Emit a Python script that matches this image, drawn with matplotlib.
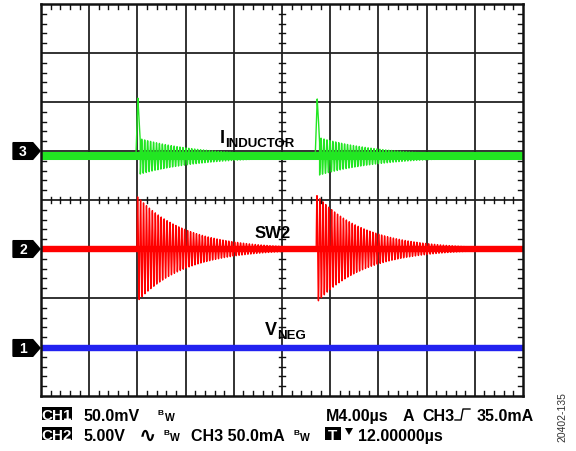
import numpy as np
import matplotlib
matplotlib.use("Agg")
from matplotlib import pyplot as plt
from matplotlib.patches import Polygon, Rectangle
from matplotlib.lines import Line2D

# scope screen, in divisions (10 x 8, 4 us/div)
event_div = [1.99, 5.71]          # switching events
ch_level = {"1": -3.02, "2": -1.00, "3": 1.00}
trace_level = {"1": -3.02, "2": -1.0, "3": 0.89}

# SW2 ringing
sw2_amp0 = 1.08
sw2_tau = 1.0
ring_period = 0.061

# inductor current: spike + smaller ring
ind_spike_dt = [-0.02, 0.02, 0.07]
ind_spike_dy = [0.0, 1.19, 0.30]
ind_amp0 = 0.36
ind_tau = 1.3

W, H = 576, 452
fig = plt.figure(figsize=(5.76, 4.52), dpi=100)
L, R, T, B = 41, 523, 5, 397
ax = fig.add_axes([L / W, 1 - B / H, (R - L) / W, (B - T) / H])
ax.set_xlim(0, 10)
ax.set_ylim(-4, 4)
ax.set_xticks([])
ax.set_yticks([])
for s in ax.spines.values():
    s.set_linewidth(1.8)
    s.set_color("#111111")
    s.set_zorder(6)

for x in range(1, 10):
    ax.axvline(x, color="#222222", lw=1.3, zorder=1)
for y in range(-3, 4):
    ax.axhline(y, color="#222222", lw=1.3, zorder=1)

# minor ticks on border and centre cross
minor_x = [v for v in np.arange(0.2, 10, 0.2) if abs(v - round(v)) > 0.01]
minor_y = [v for v in np.arange(-3.8, 4, 0.2) if abs(v - round(v)) > 0.01]
for x in minor_x:
    ax.plot([x, x], [4, 3.9], color="#111", lw=1.0, zorder=5)
    ax.plot([x, x], [-4, -3.9], color="#111", lw=1.0, zorder=5)
    ax.plot([x, x], [-0.06, 0.06], color="#111", lw=1.0, zorder=5)
for y in minor_y:
    ax.plot([0, 0.1], [y, y], color="#111", lw=1.0, zorder=5)
    ax.plot([10, 9.9], [y, y], color="#111", lw=1.0, zorder=5)
    ax.plot([4.94, 5.06], [y, y], color="#111", lw=1.0, zorder=5)

t = np.linspace(0, 10, 12000)

# CH1 (VNEG)
ax.plot([0, 10], [trace_level["1"]] * 2, color="#2222f0", lw=4.6, zorder=3,
        solid_capstyle="butt")

# CH2 (SW2)
red = np.full_like(t, trace_level["2"])
for e in event_div:
    dt = t - e
    m = dt >= 0
    red[m] += sw2_amp0 * np.exp(-dt[m] / sw2_tau) * np.sin(2 * np.pi * dt[m] / ring_period)
ax.plot([0, 10], [trace_level["2"]] * 2, color="#ff0000", lw=4.6, zorder=3,
        solid_capstyle="butt")
ax.plot(t, red, color="#ff0000", lw=1.0, zorder=3)

# CH3 (I inductor)
grn = np.full_like(t, trace_level["3"])
for e in event_div:
    dt = t - e
    grn += np.interp(dt, ind_spike_dt, ind_spike_dy, left=0, right=0)
    m = dt >= 0.07
    d2 = dt[m] - 0.07
    grn[m] += -ind_amp0 * np.exp(-d2 / ind_tau) * np.cos(2 * np.pi * d2 / ring_period)
ax.plot([0, 10], [trace_level["3"]] * 2, color="#22e622", lw=5.8, zorder=3,
        solid_capstyle="butt")
ax.plot(t, grn, color="#22e622", lw=1.0, zorder=3)

# channel markers
for ch, y in ch_level.items():
    pts = [(-0.58, y - 0.17), (-0.17, y - 0.17), (-0.02, y), (-0.17, y + 0.17), (-0.58, y + 0.17)]
    ax.add_patch(Polygon(pts, closed=True, facecolor="black", edgecolor="black",
                         clip_on=False, zorder=7))
    ax.text(-0.375, y, ch, color="white", fontsize=10, fontweight="bold",
            family="Liberation Sans", ha="center", va="center", zorder=8)

# trace labels
lab = dict(family="Liberation Sans", fontweight="bold", color="black", zorder=8)
ax.text(3.71, 1.18, "I", fontsize=13, va="baseline", **lab)
ax.text(3.81, 1.10, "INDUCTOR", fontsize=9.5, va="baseline", **lab)
ax.text(4.44, -0.755, "SW2", fontsize=12, va="baseline", **lab)
ax.text(4.65, -2.73, "V", fontsize=13, va="baseline", **lab)
ax.text(4.90, -2.81, "NEG", fontsize=9.5, va="baseline", **lab)


# status lines below the screen (pixel positions)
def fx(px):
    return px / W


def fy(py):
    return 1 - py / H


def ftext(px, py, s, size=11.5, color="black", weight="bold", **kw):
    fig.text(fx(px), fy(py), s, fontsize=size, color=color, fontweight=weight,
             family=["Liberation Sans", "DejaVu Sans"], va="baseline", **kw)


def fbox(x0, y0, x1, y1, s, size=11):
    fig.add_artist(Rectangle((fx(x0), fy(y1)), fx(x1) - fx(x0), fy(y0) - fy(y1),
                             transform=fig.transFigure, facecolor="black", edgecolor="none"))
    ftext((x0 + x1) / 2, y1 - 1, s, size=size, color="white", ha="center")


def bw(px, py):
    ftext(px, py - 6, "B", size=6)
    ftext(px + 7, py, "W", size=7.5)


r1, r2 = 421, 441
fbox(42, 408, 72, 421, "CH1")
ftext(83, r1, "50.0mV")
bw(158, r1)
ftext(326, r1, "M4.00µs")
ftext(403, r1, "A")
ftext(422, r1, "CH3")
fig.add_artist(Line2D([fx(455), fx(461), fx(463), fx(470)], [fy(421), fy(421), fy(410), fy(410)],
                      transform=fig.transFigure, color="black", lw=1.0))
ftext(477, r1, "35.0mA")

fbox(42, 428, 72, 441, "CH2")
ftext(83, r2, "5.00V")
ftext(139, r2 + 1, "∿", size=15)
bw(163, r2)
ftext(191, r2, "CH3 50.0mA")
bw(293, r2)
fbox(325, 428, 341, 441, "T")
fig.add_artist(Polygon([(fx(345), fy(429)), (fx(353), fy(429)), (fx(349), fy(436))],
                       closed=True, transform=fig.transFigure, facecolor="black"))
ftext(358, r2, "12.00000µs")

fig.text(fx(562), fy(417), "20402-135", rotation=90, fontsize=7.5, color="#333333",
         family="Liberation Sans", ha="center", va="center")

fig.savefig("out.png", dpi=100)
